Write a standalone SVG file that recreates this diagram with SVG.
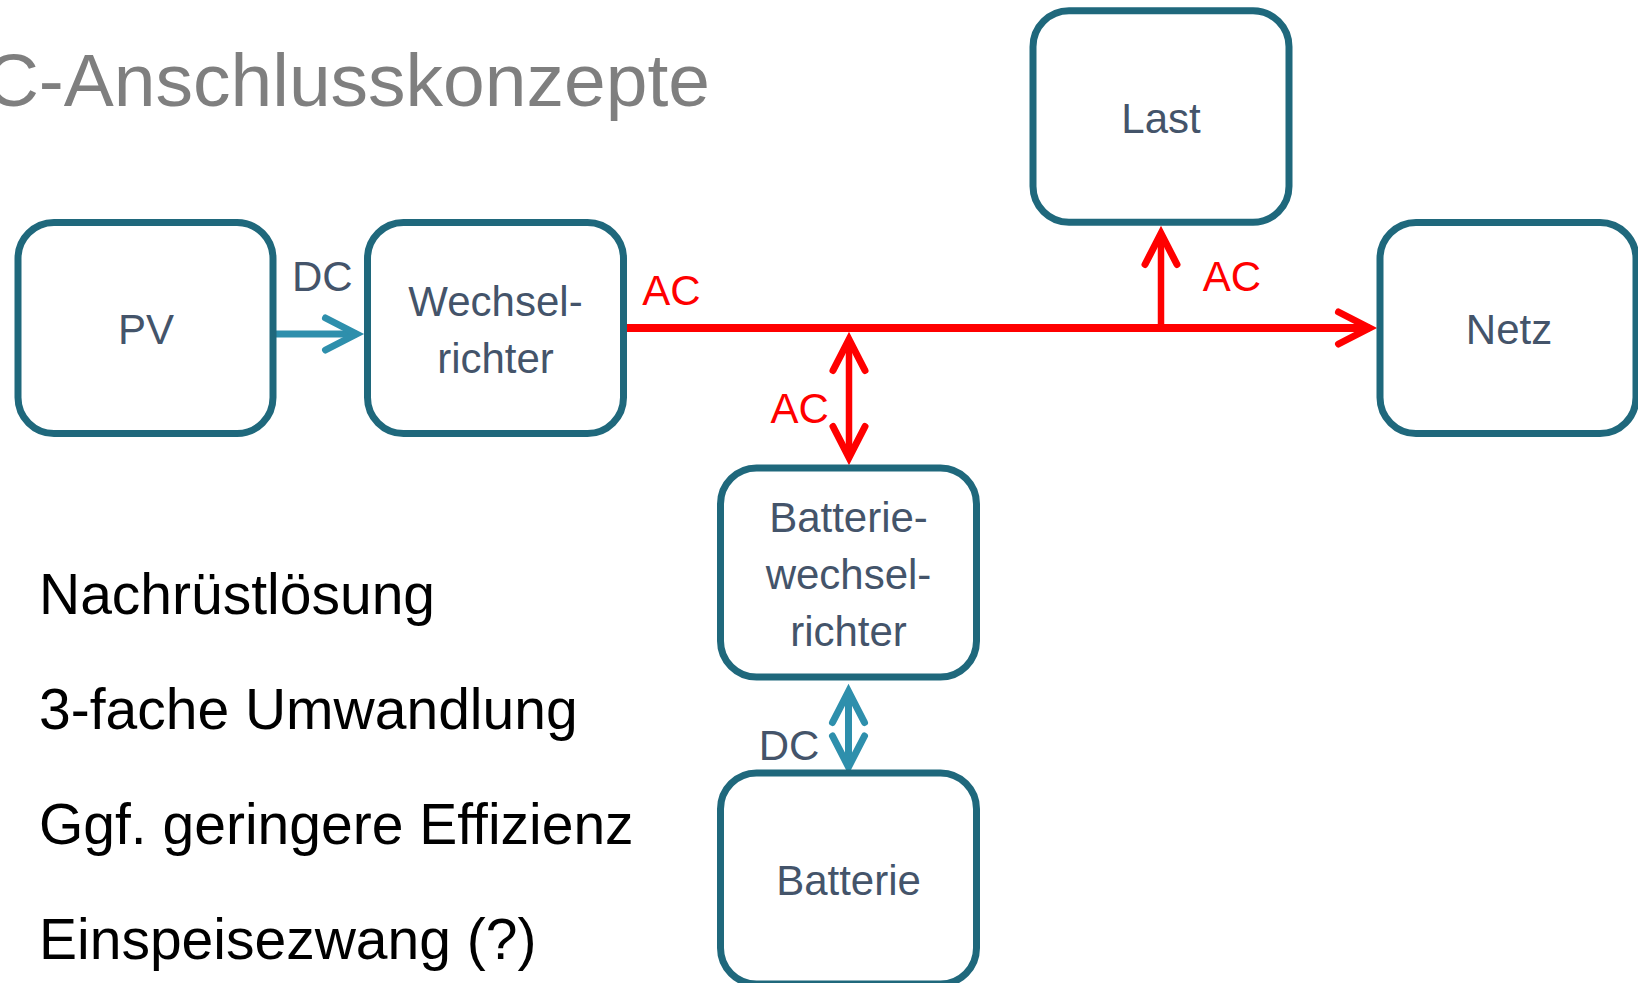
<svg xmlns="http://www.w3.org/2000/svg" width="1638" height="983" viewBox="0 0 1638 983">
<style>
.box{fill:#ffffff;stroke:#1f687c;stroke-width:7}
.lbl{font-family:"Liberation Sans",Arial,sans-serif;font-size:42px;fill:#44546a;text-anchor:middle}
.red{font-family:"Liberation Sans",Arial,sans-serif;font-size:42px;fill:#ff0000;text-anchor:middle}
.bul{font-family:"Liberation Sans",Arial,sans-serif;font-size:57px;fill:#000000}
.title{font-family:"Liberation Sans",Arial,sans-serif;font-size:75px;fill:#7f7f7f;text-anchor:end}
.ac{fill:none;stroke:#ff0000}
.dc{fill:none;stroke:#2e8fac;stroke-width:7}
</style>
<defs>
<marker id="arR" viewBox="-45 -25 55 50" refX="0" refY="0" markerWidth="55" markerHeight="50" markerUnits="userSpaceOnUse" orient="auto-start-reverse" overflow="visible">
<path d="M-31,-16 L0,0 L-31,16" fill="none" stroke="#ff0000" stroke-width="7" stroke-linecap="round" stroke-linejoin="miter"/>
</marker>
<marker id="arB" viewBox="-45 -25 55 50" refX="0" refY="0" markerWidth="55" markerHeight="50" markerUnits="userSpaceOnUse" orient="auto-start-reverse" overflow="visible">
<path d="M-31,-16 L0,0 L-31,16" fill="none" stroke="#2e8fac" stroke-width="7" stroke-linecap="round" stroke-linejoin="miter"/>
</marker>
</defs>
<rect width="1638" height="983" fill="#ffffff"/>
<text class="title" x="710" y="106">C-Anschlusskonzepte</text>
<g id="bullets">
<text class="bul" x="39" y="614">Nachrüstlösung</text>
<text class="bul" x="39" y="729">3-fache Umwandlung</text>
<text class="bul" x="39" y="844">Ggf. geringere Effizienz</text>
<text class="bul" x="39" y="959">Einspeisezwang (?)</text>
</g>
<g id="connectors">
<line class="dc" x1="276" y1="334" x2="356.5" y2="334" marker-end="url(#arB)"/>
<line class="ac" stroke-width="8" x1="624" y1="328" x2="1369.5" y2="328" marker-end="url(#arR)"/>
<line class="ac" stroke-width="6.5" x1="1161" y1="331" x2="1161" y2="233.5" marker-end="url(#arR)"/>
<line class="ac" stroke-width="6.5" x1="849" y1="339.5" x2="849" y2="457.5" marker-start="url(#arR)" marker-end="url(#arR)"/>
<line class="dc" x1="848.5" y1="691.5" x2="848.5" y2="767" marker-start="url(#arB)" marker-end="url(#arB)"/>
<text class="lbl" x="322.3" y="290.7">DC</text>
<text class="red" x="671.4" y="304.5">AC</text>
<text class="red" x="1232" y="290.7">AC</text>
<text class="red" x="799.8" y="422.5">AC</text>
<text class="lbl" x="789" y="760">DC</text>
</g>
<g id="pv">
<rect class="box" x="18" y="222.5" width="255" height="211" rx="36"/>
<text class="lbl" x="146" y="344">PV</text>
</g>
<g id="wechselrichter">
<rect class="box" x="367.5" y="222.5" width="256" height="211" rx="36"/>
<text class="lbl" x="495.5" y="316">Wechsel-</text>
<text class="lbl" x="495.5" y="372.7">richter</text>
</g>
<g id="last">
<rect class="box" x="1033" y="10.8" width="256" height="211.5" rx="36"/>
<text class="lbl" x="1161" y="133.3">Last</text>
</g>
<g id="netz">
<rect class="box" x="1380" y="222.5" width="256" height="211" rx="36"/>
<text class="lbl" x="1509" y="344.3">Netz</text>
</g>
<g id="batteriewechselrichter">
<rect class="box" x="720.5" y="468" width="256" height="209" rx="36"/>
<text class="lbl" x="848.5" y="532">Batterie-</text>
<text class="lbl" x="848.5" y="589">wechsel-</text>
<text class="lbl" x="848.5" y="646">richter</text>
</g>
<g id="batterie">
<rect class="box" x="720.5" y="773" width="256" height="211" rx="36"/>
<text class="lbl" x="848.5" y="894.5">Batterie</text>
</g>
</svg>
